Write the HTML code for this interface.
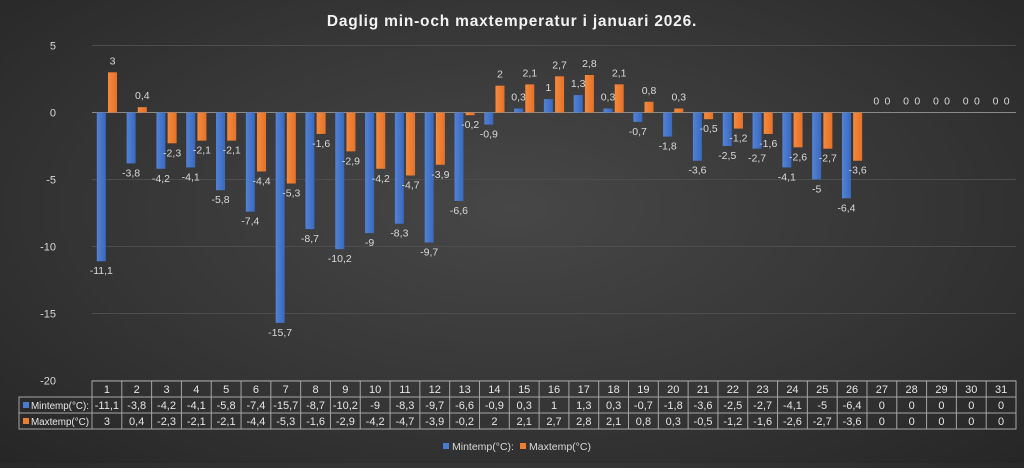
<!DOCTYPE html>
<html><head><meta charset="utf-8"><style>
html,body{margin:0;padding:0}
body{width:1024px;height:463px;overflow:hidden;background:radial-gradient(ellipse at 50% 45%,#474747 0%,#363636 55%,#262626 100%);font-family:"Liberation Sans",sans-serif}
</style></head><body>
<svg id="c" width="1024" height="463" xmlns="http://www.w3.org/2000/svg" font-family="Liberation Sans, sans-serif"></svg>
<script>
const mn=[-11.1,-3.8,-4.2,-4.1,-5.8,-7.4,-15.7,-8.7,-10.2,-9,-8.3,-9.7,-6.6,-0.9,0.3,1,1.3,0.3,-0.7,-1.8,-3.6,-2.5,-2.7,-4.1,-5,-6.4,0,0,0,0,0];
const mx=[3,0.4,-2.3,-2.1,-2.1,-4.4,-5.3,-1.6,-2.9,-4.2,-4.7,-3.9,-0.2,2,2.1,2.7,2.8,2.1,0.8,0.3,-0.5,-1.2,-1.6,-2.6,-2.7,-3.6,0,0,0,0,0];
const x0=92,x1=1016,cw=(x1-x0)/31,y0=112.5,u=13.4;
const f=v=>String(v).replace('.',',');
let s='<defs><linearGradient id="b" x1="0" x2="1"><stop offset="0" stop-color="#5283d6"/><stop offset="1" stop-color="#3a68bd"/></linearGradient><linearGradient id="o" x1="0" x2="1"><stop offset="0" stop-color="#f5893c"/><stop offset="1" stop-color="#e5722a"/></linearGradient></defs>';
s+='<text x="512" y="26" text-anchor="middle" fill="#f2f2f2" font-size="15.5" font-weight="bold" letter-spacing="0.8">Daglig min-och maxtemperatur i januari 2026.</text>';
for(let v=5;v>=-20;v-=5){const y=y0-v*u;s+=`<line x1="${x0}" x2="${x1}" y1="${y}" y2="${y}" stroke="${v==0?'#8a8a8a':'#4d4d4d'}" stroke-width="1"/>`;s+=`<text x="56" y="${y+4}" text-anchor="end" fill="#d9d9d9" font-size="11">${v}</text>`;}
for(let i=0;i<31;i++){const cx=x0+i*cw;const bx=cx+4.8,ox=cx+16;
[[mn[i],bx,'url(#b)'],[mx[i],ox,'url(#o)']].forEach(([v,x,c])=>{
 const h=Math.abs(v)*u;const y=v>=0?y0-h:y0;
 if(h>0)s+=`<rect x="${x}" y="${y}" width="9" height="${h}" fill="${c}"/>`;
 const ly=v>0?y-8:(v<0?y0+h+13:y0-8);
 s+=`<text x="${x+4.5}" y="${ly}" text-anchor="middle" fill="#d9d9d9" font-size="10.5">${f(v)}</text>`;});}
const t0=381,rh=16;
s+=`<g stroke="#a6a6a6" stroke-width="1" fill="none"><rect x="${x0}" y="${t0}" width="${x1-x0}" height="${rh*3}"/><rect x="19" y="${t0+rh}" width="${x0-19}" height="${rh*2}"/>`;
s+=`<line x1="19" x2="${x1}" y1="${t0+rh}" y2="${t0+rh}"/><line x1="19" x2="${x1}" y1="${t0+2*rh}" y2="${t0+2*rh}"/>`;
for(let i=1;i<31;i++){const x=x0+i*cw;s+=`<line x1="${x}" x2="${x}" y1="${t0}" y2="${t0+3*rh}"/>`;}
s+='</g>';
for(let i=0;i<31;i++){const c=x0+i*cw+cw/2;
s+=`<text x="${c}" y="${t0+12}" text-anchor="middle" fill="#e6e6e6" font-size="11">${i+1}</text>`;
s+=`<text x="${c}" y="${t0+rh+12}" text-anchor="middle" fill="#e6e6e6" font-size="11">${f(mn[i])}</text>`;
s+=`<text x="${c}" y="${t0+2*rh+12}" text-anchor="middle" fill="#e6e6e6" font-size="11">${f(mx[i])}</text>`;}
s+=`<rect x="23" y="${t0+rh+5}" width="6" height="6" fill="#4a7bd0"/><text x="31" y="${t0+rh+12}" fill="#e6e6e6" font-size="10" textLength="58" lengthAdjust="spacingAndGlyphs">Mintemp(°C):</text>`;
s+=`<rect x="23" y="${t0+2*rh+5}" width="6" height="6" fill="#ed7d31"/><text x="31" y="${t0+2*rh+12}" fill="#e6e6e6" font-size="10" textLength="58" lengthAdjust="spacingAndGlyphs">Maxtemp(°C)</text>`;
s+=`<rect x="443" y="443" width="6" height="6" fill="#4a7bd0"/><text x="452" y="450" fill="#d9d9d9" font-size="10.5">Mintemp(°C):</text>`;
s+=`<rect x="520" y="443" width="6" height="6" fill="#ed7d31"/><text x="529" y="450" fill="#d9d9d9" font-size="10.5">Maxtemp(°C)</text>`;
document.getElementById('c').innerHTML=s;
</script>
</body></html>
